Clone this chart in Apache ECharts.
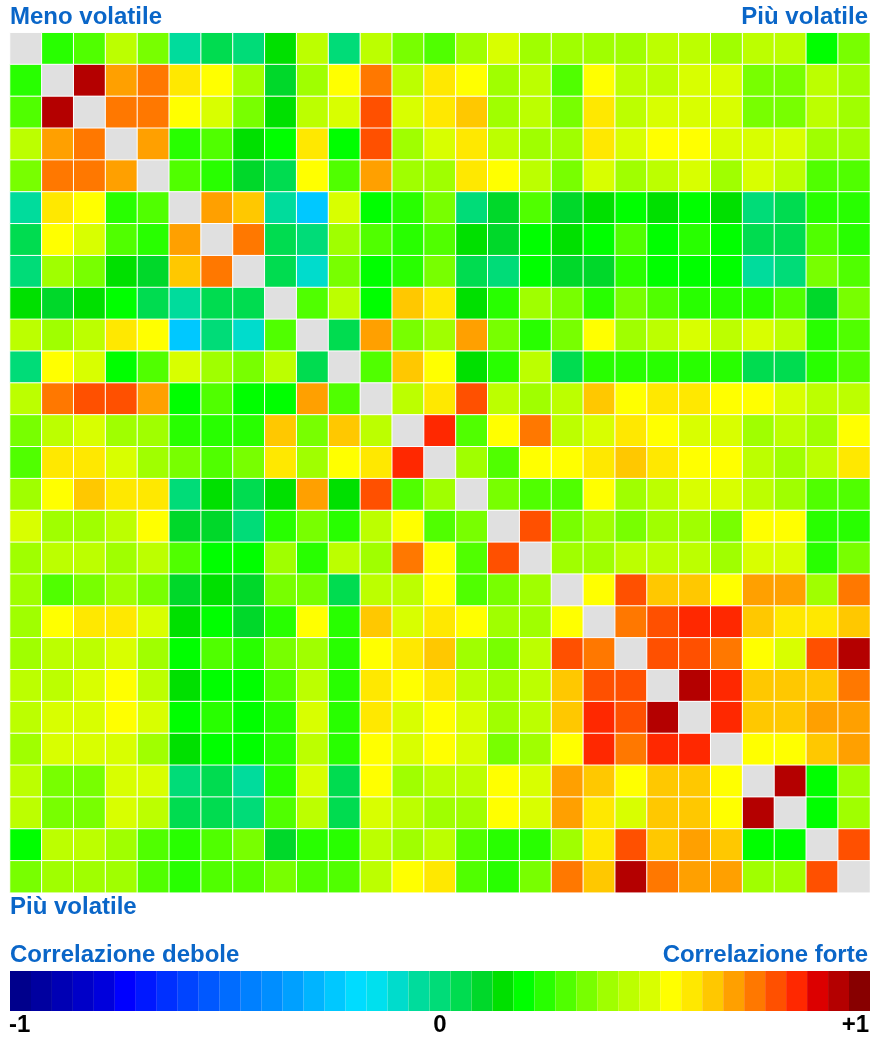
<!DOCTYPE html>
<html>
<head>
<meta charset="utf-8">
<script src="https://cdn.jsdelivr.net/npm/echarts@6/dist/echarts.min.js"></script>
<style>
html, body { margin: 0; padding: 0; background: #ffffff; }
#chart { width: 870px; height: 1039px; }
</style>
</head>
<body>
<div id="chart"></div>
<script>
// ---- data ----
const assets = ['1','2','3','4','5','6','7','8','9','10','11','12','13','14','15','16','17','18','19','20','21','22','23','24','25','26','27'];

// correlation matrix, row by row (row 0 = top, column 0 = left)
const corrRows = [
  [1, .24, .29, .44, .34, -.05, .05, 0, .15, .44, 0, .44, .34, .29, .39, .49, .39, .39, .39, .39, .44, .44, .39, .44, .44, .20, .34],
  [.24, 1, .93, .68, .73, .59, .54, .39, .10, .39, .54, .73, .44, .59, .54, .39, .44, .29, .54, .44, .44, .49, .49, .34, .34, .44, .39],
  [.29, .93, 1, .73, .73, .54, .49, .34, .15, .44, .49, .78, .49, .59, .63, .39, .44, .34, .59, .44, .49, .49, .49, .34, .34, .44, .39],
  [.44, .68, .73, 1, .68, .24, .29, .15, .20, .59, .20, .78, .39, .49, .59, .44, .39, .39, .59, .49, .54, .54, .49, .49, .49, .39, .39],
  [.34, .73, .73, .68, 1, .29, .24, .10, .05, .54, .29, .68, .39, .39, .59, .54, .44, .34, .49, .39, .44, .49, .39, .49, .44, .29, .29],
  [-.05, .59, .54, .24, .29, 1, .68, .63, -.05, -.24, .49, .20, .24, .34, 0, .10, .29, .10, .15, .20, .15, .20, .15, 0, .05, .24, .24],
  [.05, .54, .49, .29, .24, .68, 1, .73, .05, 0, .39, .29, .24, .29, .15, .10, .20, .15, .20, .29, .20, .24, .20, .05, .05, .29, .24],
  [0, .39, .34, .15, .10, .63, .73, 1, .05, -.10, .34, .20, .24, .34, .05, 0, .20, .10, .10, .24, .20, .20, .20, -.05, 0, .34, .29],
  [.15, .10, .15, .20, .05, -.05, .05, .05, 1, .29, .44, .20, .63, .59, .15, .24, .39, .34, .24, .34, .29, .24, .24, .24, .29, .10, .34],
  [.44, .39, .44, .59, .54, -.24, 0, -.10, .29, 1, .05, .68, .34, .39, .68, .34, .24, .34, .54, .39, .44, .49, .44, .49, .44, .24, .29],
  [0, .54, .49, .20, .29, .49, .39, .34, .44, .05, 1, .29, .63, .54, .15, .24, .44, .05, .24, .24, .24, .24, .24, .05, .05, .24, .29],
  [.44, .73, .78, .78, .68, .20, .29, .20, .20, .68, .29, 1, .44, .59, .78, .44, .39, .44, .63, .54, .59, .59, .54, .54, .49, .44, .44],
  [.34, .44, .49, .39, .39, .24, .24, .24, .63, .34, .63, .44, 1, .83, .29, .54, .73, .44, .49, .59, .54, .49, .49, .39, .44, .39, .54],
  [.29, .59, .59, .49, .39, .34, .29, .34, .59, .39, .54, .59, .83, 1, .39, .29, .54, .54, .59, .63, .59, .54, .54, .44, .39, .44, .59],
  [.39, .54, .63, .59, .59, 0, .15, .05, .15, .68, .15, .78, .29, .39, 1, .34, .29, .29, .54, .39, .44, .49, .49, .44, .39, .29, .29],
  [.49, .39, .39, .44, .54, .10, .10, 0, .24, .34, .24, .44, .54, .29, .34, 1, .78, .34, .39, .34, .39, .39, .34, .54, .54, .24, .24],
  [.39, .44, .44, .39, .44, .29, .20, .20, .39, .24, .44, .39, .73, .54, .29, .78, 1, .39, .39, .44, .44, .44, .39, .49, .49, .24, .34],
  [.39, .29, .34, .39, .34, .10, .15, .10, .34, .34, .05, .44, .44, .54, .29, .34, .39, 1, .54, .78, .63, .63, .54, .68, .68, .39, .73],
  [.39, .54, .59, .59, .49, .15, .20, .10, .24, .54, .24, .63, .49, .59, .54, .39, .39, .54, 1, .73, .78, .83, .83, .63, .59, .59, .63],
  [.39, .44, .44, .49, .39, .20, .29, .24, .34, .39, .24, .54, .59, .63, .39, .34, .44, .78, .73, 1, .78, .78, .73, .54, .49, .78, .93],
  [.44, .44, .49, .54, .44, .15, .20, .20, .29, .44, .24, .59, .54, .59, .44, .39, .44, .63, .78, .78, 1, .93, .83, .63, .63, .63, .73],
  [.44, .49, .49, .54, .49, .20, .24, .20, .24, .49, .24, .59, .49, .54, .49, .39, .44, .63, .83, .78, .93, 1, .83, .63, .63, .68, .68],
  [.39, .49, .49, .49, .39, .15, .20, .20, .24, .44, .24, .54, .49, .54, .49, .34, .39, .54, .83, .73, .83, .83, 1, .54, .54, .63, .68],
  [.44, .34, .34, .49, .49, 0, .05, -.05, .24, .49, .05, .54, .39, .44, .44, .54, .49, .68, .63, .54, .63, .63, .54, 1, .93, .20, .39],
  [.44, .34, .34, .49, .44, .05, .05, 0, .29, .44, .05, .49, .44, .39, .39, .54, .49, .68, .59, .49, .63, .63, .54, .93, 1, .20, .39],
  [.20, .44, .44, .39, .29, .24, .29, .34, .10, .24, .24, .44, .39, .44, .29, .24, .24, .39, .59, .78, .63, .68, .63, .20, .20, 1, .78],
  [.34, .39, .39, .39, .29, .24, .29, .29, .34, .29, .29, .44, .54, .59, .29, .24, .34, .73, .63, .93, .73, .68, .68, .39, .39, .78, 1]
];

// colour scale, 41 equal steps from -1 to +1
const scaleColors = [
  '#00008c','#0000a0','#0000b4','#0000c8','#0000dc','#0000ff','#0018ff','#0030ff','#0044ff','#0058ff',
  '#006cff','#0080ff','#008eff','#00a0ff','#00b4ff','#00c8ff','#00dcff','#00e0ee','#00dccc','#00dc9c',
  '#00dc78','#00dc50','#00d82a','#00e000','#00ff00','#28ff00','#50ff00','#78ff00','#a0ff00','#bcff00',
  '#d8ff00','#ffff00','#ffe800','#ffc800','#ffa000','#ff7800','#ff5000','#ff2800','#dc0000','#b40000',
  '#880000'
];
const scaleMin = -1;
const scaleMax = 1;
const scaleTickLabels = ['-1', '0', '+1'];
const topLabels = ['Meno volatile', 'Più volatile'];
const bottomLabel = 'Più volatile';
const scaleLabels = ['Correlazione debole', 'Correlazione forte'];

// ---- build ----
const cells = [];
corrRows.forEach(function (row, r) {
  row.forEach(function (v, c) { cells.push([c, r, v]); });
});
const step = (scaleMax - scaleMin) / scaleColors.length;
const pieces = scaleColors.map(function (color, k) {
  return {
    gte: scaleMin + k * step,
    lt: k === scaleColors.length - 1 ? scaleMax : scaleMin + (k + 1) * step,
    color: color
  };
});

const FONT = '"Liberation Sans", Arial, Helvetica, sans-serif';
const BLUE = '#0a66c8';
function label(text, x, y, align, color) {
  return {
    type: 'text',
    silent: true,
    style: {
      text: text, x: x, y: y,
      fill: color || BLUE,
      fontFamily: FONT, fontWeight: 'bold', fontSize: 24,
      align: align, textAlign: align,
      verticalAlign: 'middle', textVerticalAlign: 'middle'
    }
  };
}

const chart = echarts.init(document.getElementById('chart'), null, { renderer: 'canvas' });
chart.setOption({
  animation: false,
  backgroundColor: '#ffffff',
  grid: { left: 10, top: 32.7, width: 860, height: 860, containLabel: false },
  xAxis: { type: 'category', data: assets, show: false },
  yAxis: { type: 'category', data: assets, inverse: true, show: false },
  visualMap: {
    type: 'piecewise',
    seriesIndex: 0,
    orient: 'horizontal',
    left: 10,
    top: 971,
    padding: 0,
    itemWidth: 860 / scaleColors.length,
    itemHeight: 40,
    itemGap: 0,
    itemSymbol: 'rect',
    showLabel: false,
    text: null,
    selectedMode: false,
    hoverLink: false,
    pieces: pieces,
    outOfRange: { color: '#e0e0e0' }
  },
  series: [{
    type: 'heatmap',
    data: cells,
    itemStyle: { borderColor: '#ffffff', borderWidth: 1 },
    emphasis: { disabled: true }
  }],
  graphic: [
    label(topLabels[0], 10, 17, 'left'),
    label(topLabels[1], 868, 17, 'right'),
    label(bottomLabel, 10, 907, 'left'),
    label(scaleLabels[0], 10, 955, 'left'),
    label(scaleLabels[1], 868, 955, 'right'),
    label(scaleTickLabels[0], 9, 1025, 'left', '#000000'),
    label(scaleTickLabels[1], 440, 1025, 'center', '#000000'),
    label(scaleTickLabels[2], 869, 1025, 'right', '#000000')
  ]
});
</script>
</body>
</html>
